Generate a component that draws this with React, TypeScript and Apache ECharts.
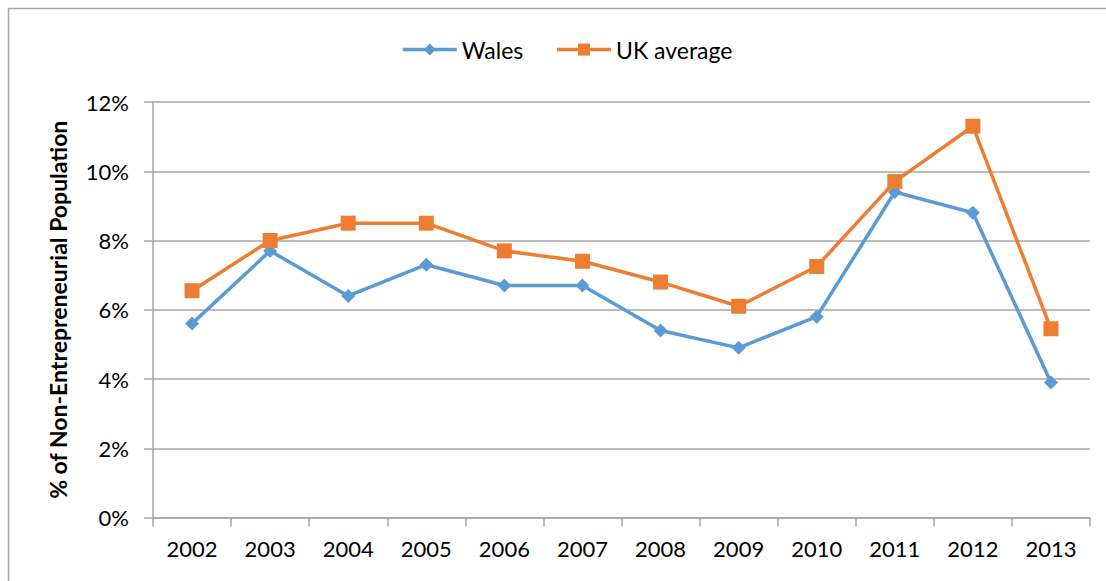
import React, { useEffect, useRef } from "react";
import * as echarts from "echarts";

const years = ["2002", "2003", "2004", "2005", "2006", "2007", "2008", "2009", "2010", "2011", "2012", "2013"];
const wales = [5.6, 7.7, 6.4, 7.3, 6.7, 6.7, 5.4, 4.9, 5.8, 9.4, 8.8, 3.9];
const ukAverage = [6.55, 8.0, 8.5, 8.5, 7.7, 7.4, 6.8, 6.1, 7.25, 9.7, 11.3, 5.45];

const FONT = "Lato, 'Open Sans', sans-serif";

export default function App() {
  const ref = useRef<HTMLDivElement>(null);
  useEffect(() => {
    if (!ref.current) return;
    const chart = echarts.init(ref.current, null, { renderer: "svg" });
    chart.setOption({
      animation: false,
      backgroundColor: "#ffffff",
      textStyle: { fontFamily: FONT },
      graphic: [
        {
          type: "rect",
          shape: { x: 8.5, y: 8.5, width: 1120, height: 600 },
          style: { fill: "none", stroke: "#a6a6a6", lineWidth: 1.5 },
          silent: true,
        },
      ],
      legend: {
        top: 33,
        left: 396,
        itemWidth: 54,
        itemHeight: 15,
        itemGap: 32,
        lineStyle: { width: 3.5 },
        textStyle: { fontFamily: FONT, fontSize: 23, color: "#000" },
        data: ["Wales", "UK average"],
      },
      grid: { left: 153, right: 16, top: 102, bottom: 63.5 },
      xAxis: {
        type: "category",
        data: years,
        boundaryGap: true,
        axisLine: { lineStyle: { color: "#a6a6a6", width: 1.5 } },
        axisTick: { show: true, length: 9, lineStyle: { color: "#a6a6a6", width: 1.5 } },
        axisLabel: { color: "#000", fontSize: 22, fontFamily: FONT, margin: 20 },
      },
      yAxis: {
        type: "value",
        min: 0,
        max: 12,
        interval: 2,
        name: "% of Non-Entrepreneurial Population",
        nameLocation: "middle",
        nameGap: 84,
        nameTextStyle: { fontFamily: FONT, fontSize: 23, fontWeight: "bold", color: "#000" },
        axisLine: { show: true, lineStyle: { color: "#a6a6a6", width: 1.5 } },
        axisTick: { show: true, length: 9, lineStyle: { color: "#a6a6a6", width: 1.5 } },
        axisLabel: { color: "#000", fontSize: 22, fontFamily: FONT, margin: 24, formatter: "{value}%" },
        splitLine: { lineStyle: { color: "#a6a6a6", width: 1.5 } },
      },
      series: [
        {
          name: "Wales",
          type: "line",
          data: wales,
          color: "#5b9bd5",
          symbol: "diamond",
          symbolSize: 14,
          lineStyle: { width: 3.5, color: "#5b9bd5" },
          itemStyle: { color: "#5b9bd5" },
        },
        {
          name: "UK average",
          type: "line",
          data: ukAverage,
          color: "#ed7d31",
          symbol: "rect",
          symbolSize: 15,
          lineStyle: { width: 3.5, color: "#ed7d31" },
          itemStyle: { color: "#ed7d31" },
        },
      ],
    });
    return () => chart.dispose();
  }, []);
  return (
    <div
      ref={ref}
      style={{ position: "absolute", left: 0, top: 0, width: 1106, height: 581 }}
    />
  );
}
